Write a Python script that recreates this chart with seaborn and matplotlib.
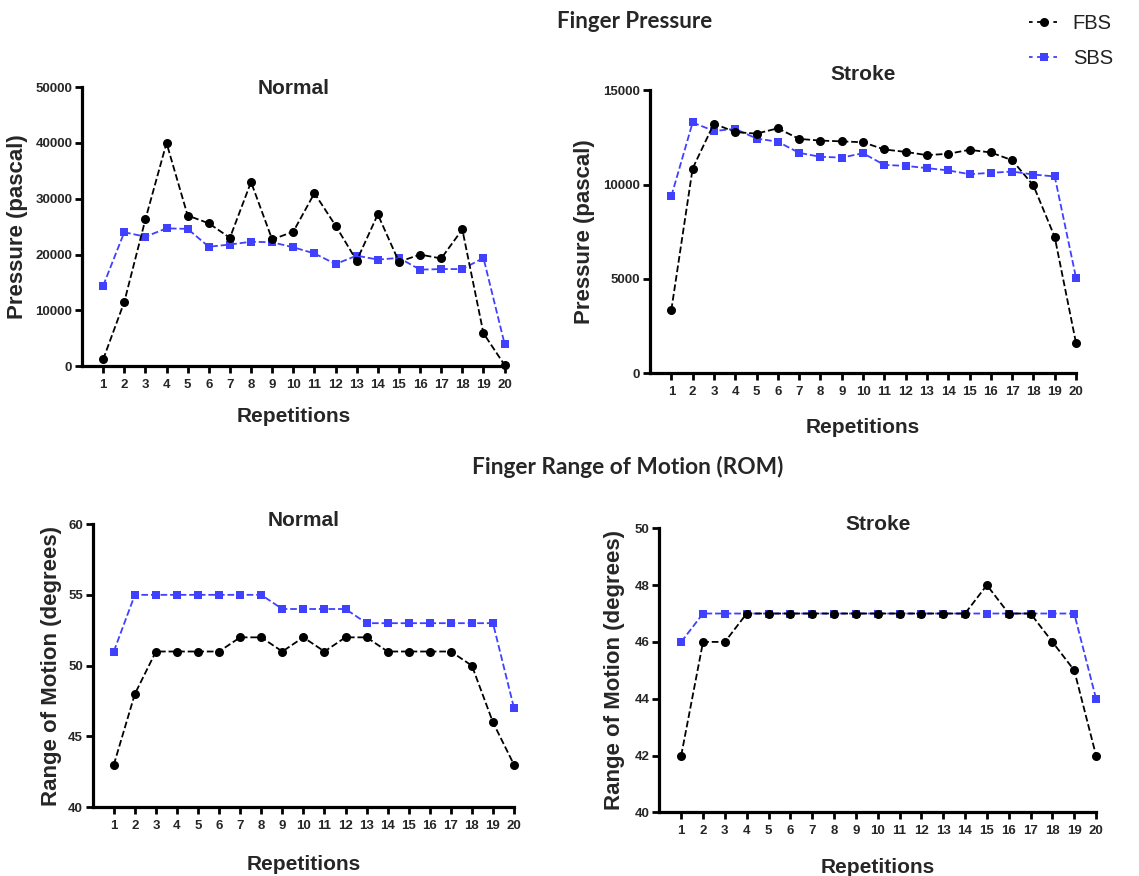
import numpy as np
import pandas as pd
import seaborn as sns
import matplotlib.pyplot as plt
from matplotlib.lines import Line2D

reps = list(range(1, 21))

# Finger pressure (pascal)
press_normal_fbs = [1200, 11500, 26300, 40000, 27000, 25600, 23000, 33000, 22700, 24100,
                    31000, 25200, 18900, 27200, 18700, 20000, 19300, 24500, 5900, 200]
press_normal_sbs = [14400, 24000, 23200, 24700, 24600, 21400, 21800, 22300, 22200, 21300,
                    20200, 18300, 19800, 19100, 19400, 17300, 17400, 17400, 19400, 4000]
press_stroke_fbs = [3350, 10850, 13230, 12780, 12700, 12980, 12420, 12330, 12290, 12240,
                    11860, 11730, 11560, 11630, 11840, 11700, 11290, 9950, 7220, 1600]
press_stroke_sbs = [9380, 13290, 12840, 12950, 12440, 12270, 11680, 11470, 11430, 11660,
                    11040, 10990, 10870, 10750, 10550, 10620, 10690, 10530, 10430, 5060]

# Finger range of motion (degrees)
rom_normal_fbs = [43, 48, 51, 51, 51, 51, 52, 52, 51, 52, 51, 52, 52, 51, 51, 51, 51, 50, 46, 43]
rom_normal_sbs = [51, 55, 55, 55, 55, 55, 55, 55, 54, 54, 54, 54, 53, 53, 53, 53, 53, 53, 53, 47]
rom_stroke_fbs = [42, 46, 46, 47, 47, 47, 47, 47, 47, 47, 47, 47, 47, 47, 48, 47, 47, 46, 45, 42]
rom_stroke_sbs = [46, 47, 47, 47, 47, 47, 47, 47, 47, 47, 47, 47, 47, 47, 47, 47, 47, 47, 47, 44]

sns.set_theme(style="ticks")
plt.rcParams['font.family'] = ['Liberation Sans', 'DejaVu Sans']
plt.rcParams['font.weight'] = 'bold'

BLUE = "#4040ff"

fig = plt.figure(figsize=(11.39, 8.76), dpi=100)

panels = [
    # rect, fbs, sbs, ylim, yticks, ylabel, title, title_y, ylab_x, xlab_y
    ([0.072, 0.582, 0.371, 0.3185], press_normal_fbs, press_normal_sbs, (0, 50000),
     [0, 10000, 20000, 30000, 40000, 50000], "Pressure (pascal)", "Normal", 0.996, -0.128, -0.147),
    ([0.5707, 0.574, 0.374, 0.323], press_stroke_fbs, press_stroke_sbs, (0, 15000),
     [0, 5000, 10000, 15000], "Pressure (pascal)", "Stroke", 1.057, -0.129, -0.159),
    ([0.0814, 0.0784, 0.3699, 0.3234], rom_normal_fbs, rom_normal_sbs, (40, 60),
     [40, 45, 50, 55, 60], "Range of Motion (degrees)", "Normal", 1.012, -0.073, -0.168),
    ([0.5789, 0.0727, 0.3834, 0.3242], rom_stroke_fbs, rom_stroke_sbs, (40, 50),
     [40, 42, 44, 46, 48, 50], "Range of Motion (degrees)", "Stroke", 1.015, -0.0785, -0.161),
]

for rect, fbs, sbs, ylim, yticks, ylabel, title, ty, ylx, xly in panels:
    ax = fig.add_axes(rect)
    df = pd.DataFrame({"rep": reps, "FBS": fbs, "SBS": sbs})
    sns.lineplot(x="rep", y="FBS", data=df, ax=ax, color="black", marker="o",
                 markersize=6.5, markeredgewidth=0, linestyle="--", dashes=(3.5, 2.5),
                 linewidth=1.3, clip_on=False, zorder=3)
    sns.lineplot(x="rep", y="SBS", data=df, ax=ax, color=BLUE, marker="s",
                 markersize=5.2, markeredgewidth=0, linestyle="--", dashes=(3.5, 2.5),
                 linewidth=1.3, clip_on=False, zorder=2)
    ax.set_xlim(0, 20)
    ax.set_ylim(*ylim)
    ax.set_xticks(reps)
    ax.set_xticklabels([str(r) for r in reps], fontsize=9.5, fontweight="bold")
    ax.set_yticks(yticks)
    ax.set_yticklabels([str(t) for t in yticks], fontsize=9.5, fontweight="bold")
    sns.despine(ax=ax)
    for s in ["left", "bottom"]:
        ax.spines[s].set_linewidth(2.3)
        ax.spines[s].set_color("black")
    ax.tick_params(axis="both", width=2, length=5, color="black", pad=2)
    ax.tick_params(axis="x", pad=4)
    ax.set_ylabel(ylabel, fontsize=16, fontweight="bold")
    ax.set_xlabel("Repetitions", fontsize=15, fontweight="bold")
    ax.yaxis.set_label_coords(ylx, 0.5)
    ax.xaxis.set_label_coords(0.5, xly)
    ax.text(0.5, ty, title, transform=ax.transAxes, ha="center", va="center",
            fontsize=15, fontweight="bold")

fig.text(635 / 1139, 1 - 22 / 876, "Finger Pressure", ha="center", va="center",
         fontsize=16, fontweight="bold", family=["Lato", "DejaVu Sans"])
fig.text(628 / 1139, 1 - 467 / 876, "Finger Range of Motion (ROM)", ha="center", va="center",
         fontsize=16.3, fontweight="bold", family=["Lato", "DejaVu Sans"])

handles = [
    Line2D([], [], color="black", marker="o", markersize=6.5, markeredgewidth=0,
           linestyle="--", dashes=(2, 2.5), linewidth=1.3),
    Line2D([], [], color=BLUE, marker="s", markersize=5.2, markeredgewidth=0,
           linestyle="--", dashes=(2, 2.5), linewidth=1.3),
]
fig.legend(handles, ["FBS", "SBS"], loc="upper left", bbox_to_anchor=(0.895, 0.996),
           frameon=False, borderpad=0, handlelength=1.45, handletextpad=0.7,
           labelspacing=0.8, prop={"size": 14.5, "weight": "normal"}, labelcolor="#222222")

fig.savefig("out.png", dpi=100)
